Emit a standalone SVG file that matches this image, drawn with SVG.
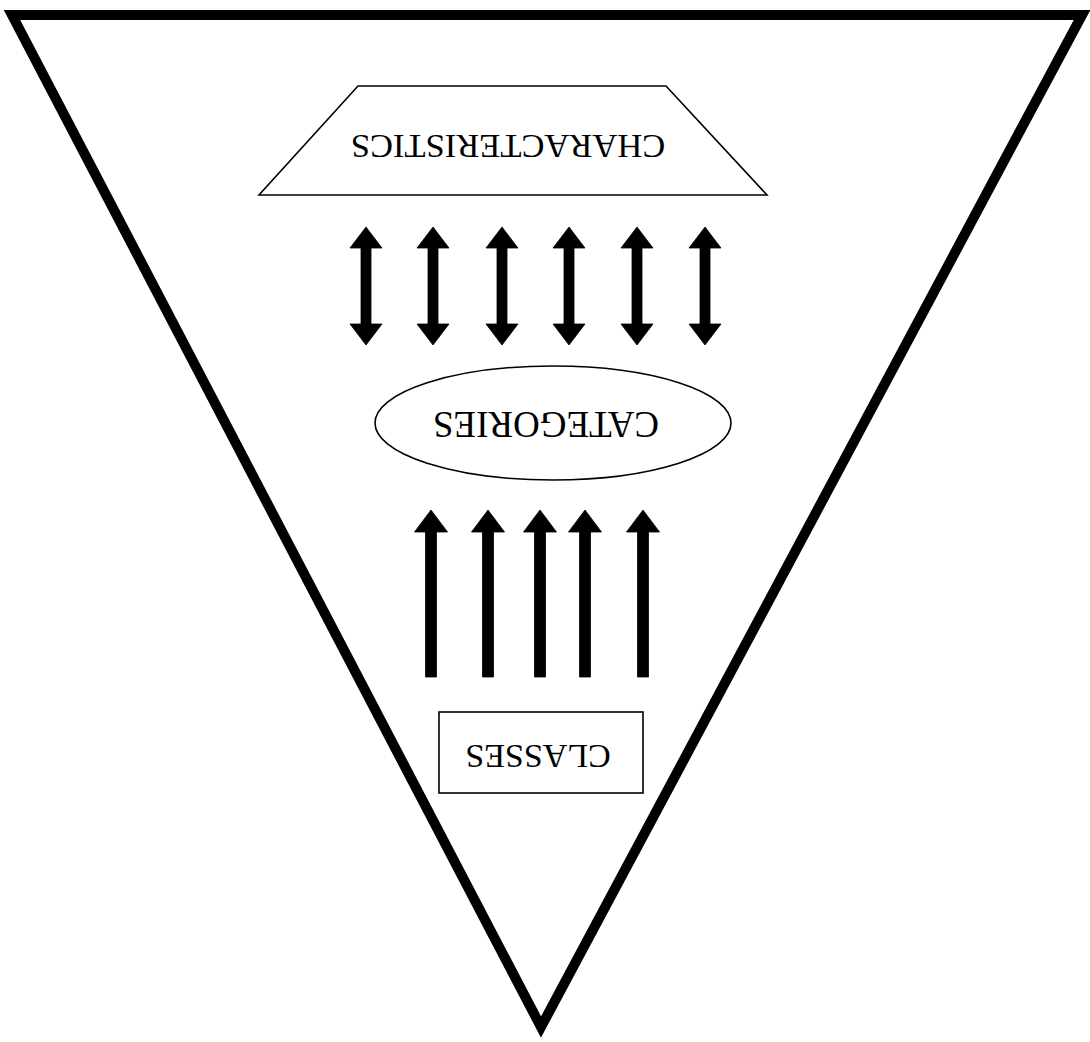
<svg xmlns="http://www.w3.org/2000/svg" width="1090" height="1042" viewBox="0 0 1090 1042">
<style>
.shape{fill:#fff;stroke:#000;stroke-width:1.6}
.lbl{font-family:"Liberation Serif","Times New Roman",serif;fill:#000;text-anchor:middle}
.arr{fill:#000;stroke:#000;stroke-width:0.8;stroke-linejoin:miter}
</style>
<defs>
<path id="dbl" d="M0,0 L16,21 L5,21 L5,97 L16,97 L0,118 L-16,97 L-5,97 L-5,21 L-16,21 Z"/>
<path id="up" d="M0,0 L16.5,22 L5.5,22 L5.5,167 L-5.5,167 L-5.5,22 L-16.5,22 Z"/>
</defs>
<rect width="1090" height="1042" fill="#fff"/>
<g id="frame">
<polygon points="12,15 1082,15 541,1027" fill="none" stroke="#000" stroke-width="10" stroke-linejoin="miter"/>
</g>
<g id="characteristics">
<polygon class="shape" points="358,86 666,86 767,195 259,195"/>
<text class="lbl" font-size="34.5" x="508" y="157.4" transform="rotate(180 508 146)">CHARACTERISTICS</text>
</g>
<g id="categories">
<ellipse class="shape" cx="553" cy="423" rx="178" ry="57"/>
<text class="lbl" font-size="37" x="546" y="436" transform="rotate(180 546 424)">CATEGORIES</text>
</g>
<g id="classes">
<rect class="shape" x="439" y="712" width="204" height="81"/>
<text class="lbl" font-size="34" x="538" y="767" transform="rotate(180 538 756)">CLASSES</text>
</g>
<g id="connectors">
<use href="#dbl" class="arr" x="366" y="227"/>
<use href="#dbl" class="arr" x="433" y="227"/>
<use href="#dbl" class="arr" x="502" y="227"/>
<use href="#dbl" class="arr" x="569" y="227"/>
<use href="#dbl" class="arr" x="637" y="227"/>
<use href="#dbl" class="arr" x="705" y="227"/>
<use href="#up" class="arr" x="431" y="510"/>
<use href="#up" class="arr" x="488" y="510"/>
<use href="#up" class="arr" x="540" y="510"/>
<use href="#up" class="arr" x="585" y="510"/>
<use href="#up" class="arr" x="643" y="510"/>
</g>
</svg>
